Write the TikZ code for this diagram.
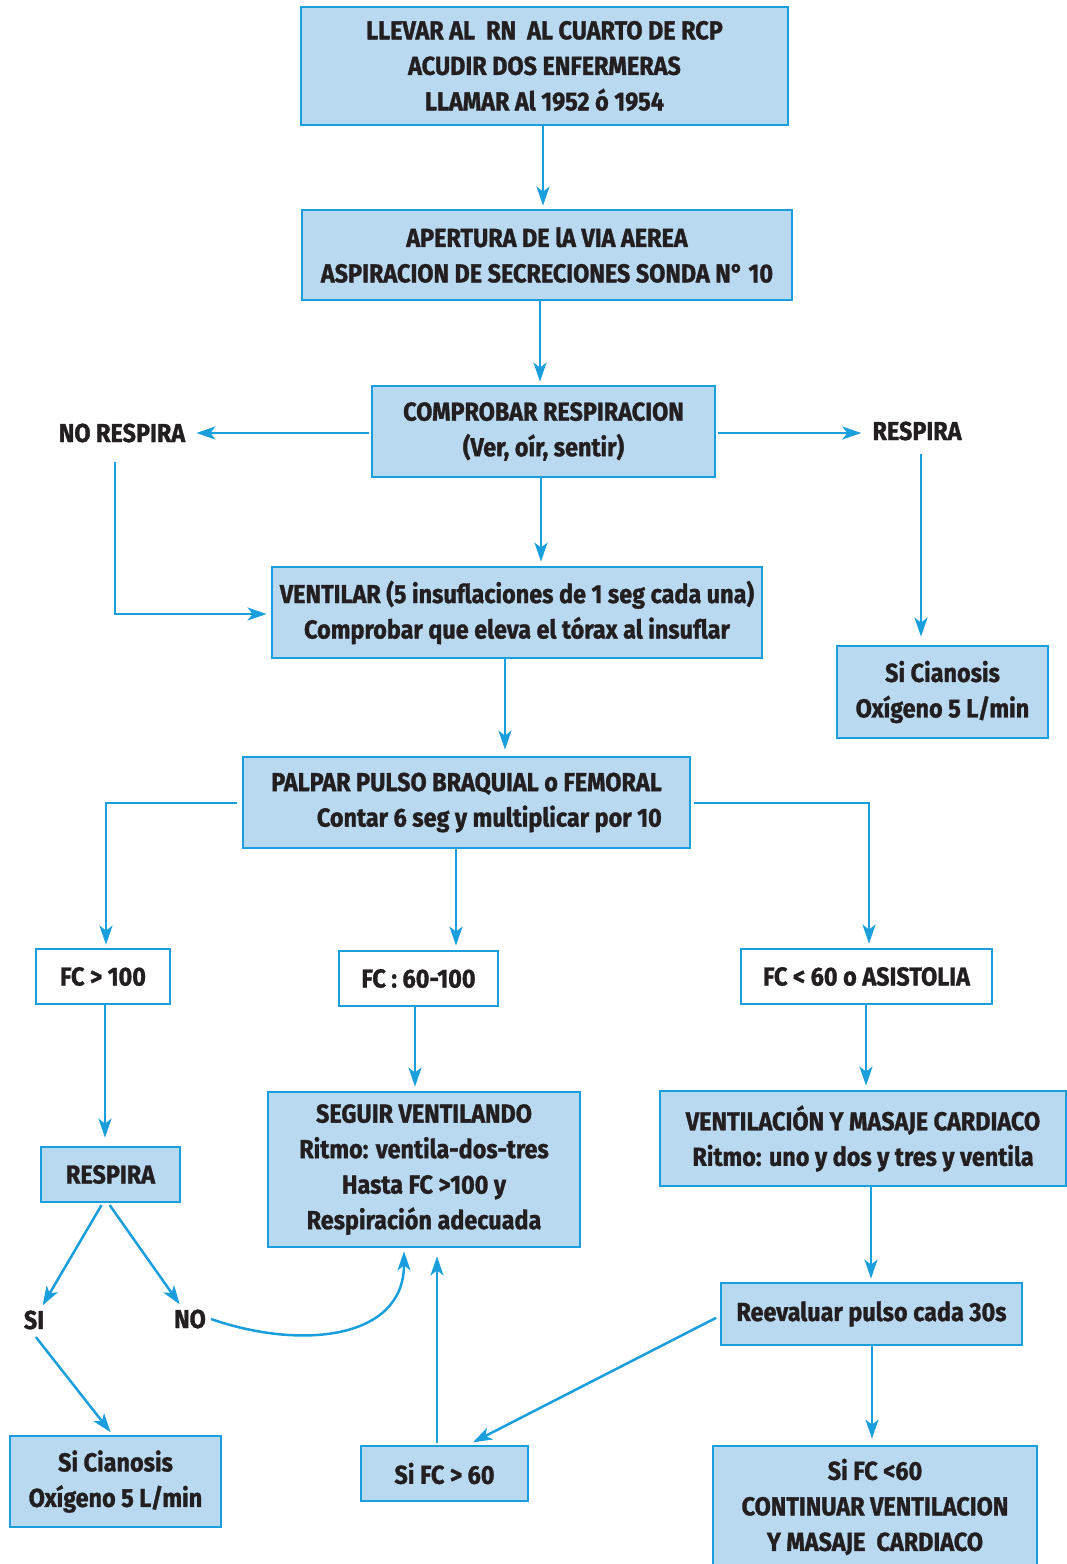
\documentclass[tikz,border=0pt]{standalone}
\usepackage{fontspec}
\setmainfont{Fira Sans}[UprightFont=* Bold, FakeStretch=0.9, FakeBold=1.2]
\usetikzlibrary{arrows.meta,calc}
\definecolor{lineblue}{HTML}{1A9FDC}
\definecolor{boxfill}{HTML}{B9D9F1}
\definecolor{ink}{HTML}{231F20}
\tikzset{
  basefont/.style={font=\fontsize{26}{35.5}\selectfont, text=ink},
  bluebox/.style={basefont, draw=lineblue, line width=2.8pt, fill=boxfill,
    align=center, inner sep=0pt},
  whitebox/.style={bluebox, fill=white},
  lbl/.style={basefont, inner sep=5pt},
  arr/.style={draw=lineblue, line width=2.5pt,
    -{Stealth[length=19pt, width=13pt, inset=5pt]}},
}
% box given by its left, top, right and bottom edges
\newcommand{\boxat}[7][bluebox]{%
  \node[#1, minimum width={#5-#3}, minimum height={#6-#4}]
    (#2) at ({(#3+#5)/2},{(#4+#6)/2}) {#7};}
\begin{document}
\begin{tikzpicture}[x=1pt, y=-1pt]
\useasboundingbox (0,0) rectangle (1067,1564);

\boxat{b1}{301}{7}{788}{125}{LLEVAR AL\ \ RN\ \ AL CUARTO DE RCP\\ACUDIR DOS ENFERMERAS\\LLAMAR Al 1952 ó 1954}
\boxat{b2}{302}{210}{792}{300}{APERTURA DE lA VIA AEREA\\ASPIRACION DE SECRECIONES SONDA N° 10}
\boxat{b3}{372}{386}{715}{477}{COMPROBAR RESPIRACION\\(Ver, oír, sentir)}
\boxat{b4}{272}{567}{762}{658}{VENTILAR (5 insuflaciones de 1 seg cada una)\\Comprobar que eleva el tórax al insuflar}
\boxat{sc1}{837}{646}{1048}{738}{Si Cianosis\\Oxígeno 5 L/min}
\node[bluebox, align=right, minimum width=447, minimum height=91] (b5) at (466.5,802.5)
  {PALPAR PULSO BRAQUIAL o FEMORAL\\Contar 6 seg y multiplicar por 10};
\boxat[whitebox]{fc1}{36}{949}{170}{1004}{FC > 100}
\boxat[whitebox]{fc2}{339}{951}{498}{1006}{FC : 60-100}
\boxat[whitebox]{fc3}{741}{949}{992}{1004}{FC < 60 o ASISTOLIA}
\boxat{rb}{41}{1147}{180}{1202}{RESPIRA}
\boxat{sg}{268}{1092}{580}{1247}{SEGUIR VENTILANDO\\Ritmo: ventila-dos-tres\\Hasta FC >100 y\\Respiración adecuada}
\boxat{vm}{660}{1091}{1066}{1186}{VENTILACIÓN Y MASAJE CARDIACO\\Ritmo: uno y dos y tres y ventila}
\boxat{re}{721}{1283}{1022}{1345}{Reevaluar pulso cada 30s}
\boxat{sl}{713}{1446}{1037}{1568}{Si FC <60\\CONTINUAR VENTILACION\\Y MASAJE\ \ CARDIACO}
\boxat{sf}{361}{1446}{528}{1501}{Si FC > 60}
\boxat{sc2}{10}{1436}{221}{1527}{Si Cianosis\\Oxígeno 5 L/min}

\node[lbl] (nr) at (122,433) {NO RESPIRA};
\node[lbl] (rl) at (917,431) {RESPIRA};
\node[lbl] (si) at (34,1320) {SI};
\node[lbl] (no) at (190,1319) {NO};

% main column
\draw[arr, shorten >=3pt] (b1.south -| 543,0) -- (b2.north -| 543,0);
\draw[arr, shorten >=3pt] (b2.south -| 540,0) -- (b3.north -| 540,0);
\draw[arr, shorten >=4pt] (b3.south -| 541,0) -- (b4.north -| 541,0);
\draw[arr, shorten >=6pt] (b4.south -| 505,0) -- (b5.north -| 505,0);

% breathing check branches
\draw[arr, shorten <=2pt, shorten >=6pt] (b3.west |- 0,433) -- (nr.east |- 0,433);
\draw[arr, shorten <=2pt, shorten >=6pt] (b3.east |- 0,433) -- (rl.west |- 0,433);
\draw[arr, shorten <=14pt, shorten >=4pt] (nr.south -| 115,0) -- (115,614) -- (b4.west |- 0,614);
\draw[arr, shorten <=8pt, shorten >=8pt] (rl.south -| 921,0) -- (sc1.north -| 921,0);

% pulse branches
\draw[arr, shorten <=5pt, shorten >=3pt] (b5.west |- 0,803) -| (fc1.north -| 106,0);
\draw[arr, shorten <=3pt, shorten >=4pt] (b5.east |- 0,803) -| (fc3.north -| 869,0);
\draw[arr, shorten >=4pt] (b5.south -| 456,0) -- (fc2.north -| 456,0);

% left column
\draw[arr, shorten >=8pt] (fc1.south -| 105,0) -- (rb.north -| 105,0);
\draw[arr, shorten <=2pt] ([xshift=-8pt]rb.south) -- (si);
\draw[arr, shorten <=2pt] ([xshift=-2pt]rb.south) -- (no);
\draw[arr, shorten <=3pt, shorten >=3pt] (si.south) -- ([xshift=-3pt]sc2.north);
\draw[arr, shorten >=3pt] (no.east) .. controls (300,1350) and (404,1340) .. (sg.south -| 404,0);

% middle column
\draw[arr, shorten >=4pt] (fc2.south -| 415,0) -- (sg.north -| 415,0);
\draw[arr, shorten <=2pt, shorten >=8pt] (sf.north -| 437,0) -- (sg.south -| 437,0);

% right column
\draw[arr, shorten >=4pt] (fc3.south -| 866,0) -- (vm.north -| 866,0);
\draw[arr, shorten >=3pt] (vm.south -| 871,0) -- (re.north -| 871,0);
\draw[arr, shorten >=6pt] (re.south -| 872,0) -- (sl.north -| 872,0);
\draw[arr, shorten <=4pt, shorten >=5pt] (re.west |- 0,1316) -- ([xshift=24pt]sf.north);
\end{tikzpicture}
\end{document}
